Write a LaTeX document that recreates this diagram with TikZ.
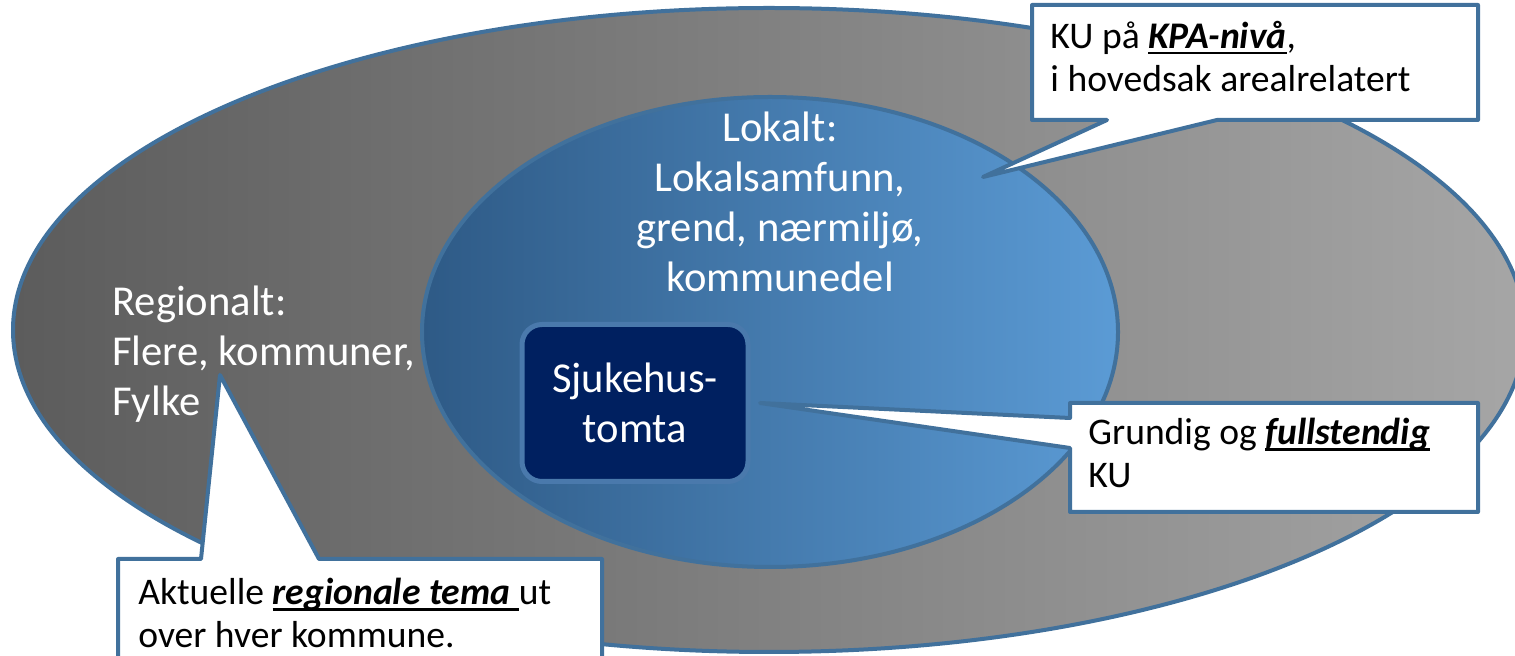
\documentclass[tikz,border=0pt]{standalone}
\usepackage{fontspec}
\setmainfont{Carlito}
\usepackage{xcolor}
\usetikzlibrary{shapes.geometric,positioning,calc}

\definecolor{rimblue}{HTML}{41719C}
\definecolor{lokaldark}{HTML}{2E5A86}
\definecolor{lokallight}{HTML}{5B9BD5}
\definecolor{regdark}{HTML}{5C5C5C}
\definecolor{reglight}{HTML}{A6A6A6}
\definecolor{tomtnavy}{HTML}{002060}
\definecolor{tomtrim}{HTML}{4A79AC}

\newcommand{\understrek}[1]{\setbox0\hbox{#1}\rlap{\vrule height -1.6pt depth 2.9pt width \wd0}\box0}

\tikzset{
  zone/.style={ellipse, draw=rimblue, line width=2pt, inner sep=0pt},
  zonetext/.style={text=white, font=\fontsize{21.3}{25}\selectfont},
  calloutrim/.style={draw=rimblue, fill=white, line width=2pt, line join=round},
  callouttext/.style={font=\fontsize{18.8}{21.5}\selectfont, align=left, inner sep=0pt, anchor=north west}
}

\begin{document}
\begin{tikzpicture}[x=0.5pt, y=-0.5pt]
    \useasboundingbox (0,0) rectangle (1515,656);

    \coordinate (regcenter) at (769,330);
    \coordinate (lokcenter) at (770,332);
    \node[zone, minimum width=756pt, minimum height=322pt, left color=regdark, right color=reglight] (regional) at (regcenter) {};
    \node[zone, minimum width=348pt, minimum height=235pt, left color=lokaldark, right color=lokallight] (lokal) at (lokcenter) {};

    \node[zonetext, align=left, anchor=west, inner sep=0pt] (regtext) at (112,354) {Regionalt:\\Flere, kommuner,\\Fylke};
    \node[zonetext, align=center] (loktext) at (780,202) {Lokalt:\\Lokalsamfunn,\\grend, nærmiljø,\\kommunedel};

    \node[zonetext, align=center, rounded corners=10pt, fill=tomtnavy, draw=tomtrim, line width=2.5pt, minimum width=113pt, minimum height=78.5pt] (tomta) at (635,403) {Sjukehus-\\tomta};

    % callouts
    \coordinate (kpatip) at (983,177);
    \coordinate (grundtip) at (760,403);
    \coordinate (regtip) at (220,375);
    \draw[calloutrim] (1032,5) -- (1478,5) -- (1478,120) -- (1217,120) -- (kpatip) -- (1107,120) -- (1032,120) -- cycle;
    \draw[calloutrim] (1070,403) -- (1478,403) -- (1478,512) -- (1070,512) -- (1070,448) -- (grundtip) -- (1070,418) -- cycle;
    \draw[calloutrim] (118,559) -- (201,559) -- (regtip) -- (319,559) -- (602,559) -- (602,690) -- (118,690) -- cycle;

    \node[callouttext] (kpatext) at (1050,21) {KU på \understrek{\textbf{\textit{KPA-nivå}}},\\i hovedsak arealrelatert};
    \node[callouttext] (grundtext) at (1088,418) {Grundig og \understrek{\textbf{\textit{fullstendig}}}\\KU};
    \node[callouttext] (regtema) at (138,578) {Aktuelle \understrek{\textbf{\textit{regionale tema}} }ut\\over hver kommune.};
\end{tikzpicture}
\end{document}
